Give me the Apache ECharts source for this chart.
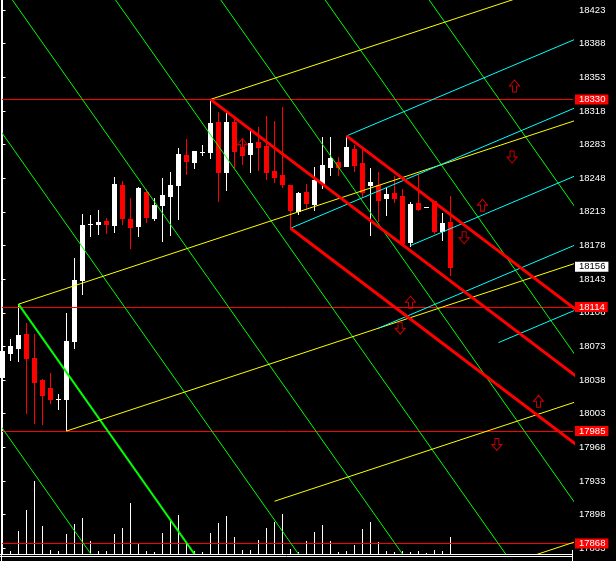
<!DOCTYPE html>
<html><head><meta charset="utf-8">
<script src="https://cdn.jsdelivr.net/npm/echarts@6/dist/echarts.min.js"></script>
<style>html,body{margin:0;padding:0;background:#000;}#c{width:616px;height:561px;}</style>
</head><body><div id="c"></div>
<script>
// ---- candle data (bar index = position) ----
const opens  = [18041,18066,18071,18086,18061,18038,18030,18018,18018,18079,18142,18200,18200,18203,18199,18241,18206,18198,18234,18207,18220,18229,18241,18272,18265,18275,18275,18306,18254,18306,18281,18273,18286,18282,18256,18251,18241,18214,18234,18221,18243,18260,18265,18261,18278,18264,18241,18241,18227,18233,18230,18182,18222,18218,18224,18193,18202];
const highs  = [18081,18081,18117,18097,18086,18039,18045,18024,18108,18165,18211,18210,18215,18207,18249,18245,18227,18239,18237,18227,18248,18254,18279,18289,18276,18283,18330,18317,18317,18311,18289,18297,18301,18313,18308,18322,18241,18234,18242,18260,18291,18291,18270,18292,18283,18280,18259,18254,18238,18250,18237,18223,18252,18218,18224,18212,18230];
const lows   = [18032,18059,18058,18004,17993,17992,18014,18008,17985,18071,18128,18188,18190,18191,18192,18200,18175,18188,18202,18205,18183,18189,18206,18252,18259,18272,18269,18224,18236,18260,18263,18254,18257,18247,18244,18239,18196,18211,18217,18215,18238,18251,18251,18261,18256,18228,18189,18203,18210,18223,18181,18178,18215,18218,18191,18184,18147];
const closes = [18068,18073,18085,18061,18036,18022,18018,18018,18079,18142,18199,18200,18202,18200,18242,18207,18197,18238,18208,18220,18231,18241,18273,18266,18276,18275,18305,18254,18306,18276,18272,18285,18280,18254,18249,18242,18215,18233,18222,18246,18262,18269,18260,18280,18262,18234,18244,18225,18232,18227,18181,18221,18216,18218,18193,18201,18156];
const volumes = [40,30,230,440,730,280,40,30,200,300,360,130,30,30,200,260,510,110,30,20,210,330,390,110,30,20,210,310,380,170,40,40,140,260,320,400,50,20,130,220,290,130,20,30,90,250,320,120,30,20,30,20,30,10,40,30,170];

// ---- price axis ticks ----
const tickValues = [17863,17898,17933,17968,18003,18038,18073,18108,18143,18178,18213,18248,18283,18318,18353,18388,18423];

// ---- horizontal lines and current price ----
const hLines = [18330, 18114, 17985, 17868];
const lastPrice = 18156;

// ---- trend objects: [barIndex, price] pairs ----
const yellowLines = [
  [[26,18330],[80,18478.2]],
  [[2,18117],[80,18331.1]],
  [[8,17985],[80,18182.6]],
  [[34,17912],[80,18038.3]],
  [[60,17838],[80,17892.9]]
];
const cyanLines = [
  [[43,18292],[80,18422.2]],
  [[36,18196],[80,18350.9]],
  [[51,18178],[80,18280.1]],
  [[47,18092],[80,18208.2]],
  [[62,18077],[80,18140.4]]
];
const redLines = [
  [[26,18330],[80,17989.8]],
  [[36,18196],[80,17918.8]],
  [[43,18292],[80,18058.9]]
];
const greenThick = [[2,18117],[30,17786]];
const greenLines = [
  [[-38.27,18440],[12.49,17840]],
  [[-12.32,18440],[38.44,17840]],
  [[0.68,18440],[51.44,17840]],
  [[13.58,18440],[64.34,17840]],
  [[26.73,18440],[77.49,17840]],
  [[39.78,18440],[90.54,17840]],
  [[52.78,18440],[103.54,17840]]
];
const upArrows = [[64,18344],[60,18220],[51,18119],[67,18016],[30,18283]];
const downArrows = [[63.7,18270],[57.7,18186],[49.7,18092],[61.8,17971]];

const X_MIN = -0.0625, X_MAX = 71.3125, Y_MIN = 17857.1, Y_MAX = 18433.4, VOL_MAX = 5540;
const FONT = 'Liberation Sans';

const chart = echarts.init(document.getElementById('c'), null, {renderer:'canvas'});

function lineSeries(pts, color, width, z){
  return {type:'line', data: pts, symbol:'none', showSymbol:false, silent:true, clip:true,
    animation:false, z: z, lineStyle:{color: color, width: width}};
}

const series = [];
// volume
series.push({
  type:'custom', coordinateSystem:'cartesian2d', xAxisIndex:0, yAxisIndex:1, silent:true, z:1,
  data: volumes.map((v,i)=>[i,v]),
  renderItem:(params, api)=>{
    const p = api.coord([api.value(0), api.value(1)]);
    const b = api.coord([api.value(0), 0]);
    return {type:'rect', shape:{x:Math.round(p[0]-0.5), y:Math.round(p[1]), width:1, height:Math.round(b[1])-Math.round(p[1])}, style:{fill:'#fff'}};
  }
});
// candles
series.push({
  type:'custom', coordinateSystem:'cartesian2d', xAxisIndex:0, yAxisIndex:0, silent:true, z:2,
  data: opens.map((o,i)=>[i,o,highs[i],lows[i],closes[i]]),
  encode:{x:0, y:[1,2,3,4]},
  renderItem:(params, api)=>{
    const i=api.value(0), o=api.value(1), h=api.value(2), l=api.value(3), c=api.value(4);
    const pO=api.coord([i,o]), pC=api.coord([i,c]), pH=api.coord([i,h]), pL=api.coord([i,l]);
    const cx=pO[0];
    const col = c>=o ? '#ffffff' : '#ff0000';
    const yt=Math.round(Math.min(pO[1],pC[1])), yb=Math.round(Math.max(pO[1],pC[1]));
    const yh=Math.round(pH[1]), yl=Math.round(pL[1]);
    return {type:'group', children:[
      {type:'rect', shape:{x:Math.round(cx-0.5), y:yh, width:1, height:Math.max(1,yl-yh+1)}, style:{fill:col}},
      {type:'rect', shape:{x:Math.round(cx-2.5), y:yt, width:5, height:Math.max(1,yb-yt+1)}, style:{fill:col}}
    ]};
  }
});
greenLines.forEach(p=>series.push(lineSeries(p,'#00ff00',1,5)));
series.push(lineSeries(greenThick,'#00ff00',2,5));
yellowLines.forEach(p=>series.push(lineSeries(p,'#ffff00',1,5)));
cyanLines.forEach(p=>series.push(lineSeries(p,'#00ffff',1,5)));
redLines.forEach(p=>series.push(lineSeries(p,'#ff0000',3,6)));

// horizontal lines + price labels
const lblBase = {show:true, position:'end', distance:2, fontFamily:FONT, fontSize:9.5, lineHeight:9,
  padding:[1,3,0,4], formatter: p=>String(p.value)};
series.push({
  type:'line', data:[], symbol:'none', silent:true, z:7,
  markLine:{silent:true, symbol:['none','none'], animation:false,
    data: hLines.map(v=>({yAxis:v, lineStyle:{color:'#ff0000', width:1, type:'solid'},
      label:Object.assign({}, lblBase, {color:'#ffffff', backgroundColor:'#ff0000'})}))
     .concat([{yAxis:lastPrice, lineStyle:{color:'rgba(0,0,0,0)', width:0},
      label:Object.assign({}, lblBase, {color:'#000000', backgroundColor:'#ffffff'})}])
  }
});
// arrows
series.push({type:'scatter', data:upArrows, silent:true, z:8,
  symbol:'path://M5,0L10,6L7,6L7,12L3,12L3,6L0,6Z', symbolSize:[10,12],
  itemStyle:{color:'rgba(0,0,0,0)', borderColor:'#ff0000', borderWidth:1}});
series.push({type:'scatter', data:downArrows, silent:true, z:8,
  symbol:'path://M3,0L7,0L7,6L10,6L5,12L0,6L3,6Z', symbolSize:[10,12],
  itemStyle:{color:'rgba(0,0,0,0)', borderColor:'#ff0000', borderWidth:1}});

chart.setOption({
  backgroundColor:'#000000',
  animation:false,
  grid:{left:2, right:43, top:0, bottom:7, containLabel:false},
  xAxis:{type:'value', min:X_MIN, max:X_MAX, show:false},
  yAxis:[
    {type:'value', position:'right', min:Y_MIN, max:Y_MAX, splitLine:{show:false},
      axisLine:{show:true, lineStyle:{color:'#ffffff', width:1}},
      axisTick:{show:true, customValues:tickValues, length:3, lineStyle:{color:'#ffffff'}},
      axisLabel:{show:true, customValues:tickValues, color:'#ffffff', fontFamily:FONT, fontSize:9.5, margin:6,
        formatter: v=>String(v)}},
    {type:'value', min:0, max:VOL_MAX, show:false}
  ],
  graphic:[
    {type:'line', z:100, shape:{x1:1.5,y1:0,x2:1.5,y2:561}, style:{stroke:'#ffffff', lineWidth:1}},
    {type:'line', z:100, shape:{x1:0,y1:554.5,x2:573,y2:554.5}, style:{stroke:'#ffffff', lineWidth:1}},
    {type:'line', z:100, shape:{x1:0,y1:556.5,x2:573,y2:556.5}, style:{stroke:'#ffffff', lineWidth:1}},
    {type:'line', z:100, shape:{x1:572.5,y1:550,x2:572.5,y2:561}, style:{stroke:'#ffffff', lineWidth:1}}
  ],
  series: series
});
</script>
</body></html>
